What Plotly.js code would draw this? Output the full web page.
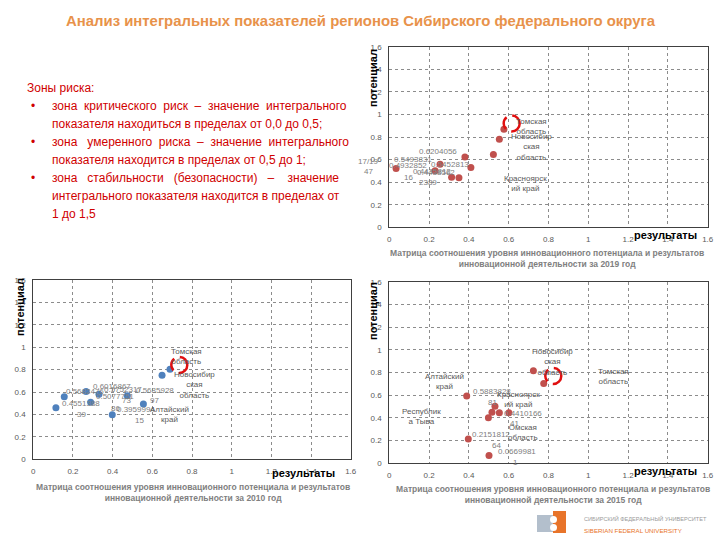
<!DOCTYPE html>
<html><head><meta charset="utf-8">
<script src="https://cdn.plot.ly/plotly-3.0.1.min.js"></script>
<style>html,body{margin:0;padding:0;background:#fff}#chart{width:720px;height:540px}</style>
</head><body><div id="chart"></div>
<script>
// ---------- DATA ----------
const slideTitle = "Анализ интегральных показателей регионов Сибирского федерального округа";
const riskLines = [
  "Зоны риска:",
  "зона\u00A0\u00A0критического\u00A0\u00A0риск\u00A0\u00A0–\u00A0\u00A0значение\u00A0\u00A0интегрального",
  "показателя находиться в пределах от 0,0 до 0,5;",
  "зона\u00A0\u00A0\u00A0умеренного\u00A0\u00A0риска\u00A0\u00A0–\u00A0\u00A0значение\u00A0\u00A0интегрального",
  "показателя находится в пределах от 0,5 до 1;",
  "зона\u00A0\u00A0\u00A0стабильности\u00A0\u00A0\u00A0(безопасности)\u00A0\u00A0\u00A0–\u00A0\u00A0\u00A0\u00A0значение",
  "интегрального показателя находится в пределах от",
  "1 до 1,5"
];
const bulletedLines = [1, 3, 5];

const xTitle = "результаты";
const yTitle = "потенциал";
const xTickVals = [0, 0.2, 0.4, 0.6, 0.8, 1, 1.2, 1.4, 1.6];
const yTickVals = [0, 0.2, 0.4, 0.6, 0.8, 1, 1.2, 1.4, 1.6];

// 2019
const results2019   = [0.034, 0.23, 0.255, 0.313, 0.35, 0.38, 0.41, 0.523, 0.553, 0.576];
const potential2019 = [0.52, 0.50, 0.558, 0.443, 0.44, 0.623, 0.53, 0.646, 0.78, 0.868];
const highlight2019 = [0.615, 0.92];
const labels2019 = ["0.6204056","0.5493831","0.4932852","0.5452813","0.4435812","0.4438562","16","2389","17/19","47",
  "Томская<br>область","Новосибир<br>ская<br>область","Красноярск<br>ий край"];
const labelPoint2019 = [5,2,0,2,1,1,0,1,0,0,9,9,9];
const caption2019 = "Матрица соотношения уровня инновационного потенциала и результатов<br>инновационной деятельности за 2019 год";

// 2010
const results2010   = [0.114, 0.156, 0.266, 0.289, 0.331, 0.398, 0.474, 0.555, 0.649, 0.689];
const potential2010 = [0.461, 0.559, 0.604, 0.509, 0.58, 0.398, 0.568, 0.494, 0.749, 0.803];
const highlight2010 = [0.736, 0.842];
const labels2010 = ["0.6016867","0.5682476","0.5077751","0.5752317","0.5685928","0.4551388","39","73","86","0.3959994","15","97",
  "Томская<br>область","Новосибир<br>ская<br>область","Алтайский<br>край"];
const labelPoint2010 = [4,2,6,6,6,1,1,6,5,5,5,7,9,9,7];
const caption2010 = "Матрица соотношения уровня инновационного потенциала и результатов<br>инновационной деятельности за 2010 год";

// 2015
const results2015   = [0.389, 0.397, 0.498, 0.501, 0.516, 0.531, 0.553, 0.601, 0.724, 0.776];
const potential2015 = [0.593, 0.214, 0.402, 0.068, 0.449, 0.502, 0.446, 0.446, 0.816, 0.702];
const highlight2015 = [0.824, 0.769];
const labels2015 = ["Алтайский<br>край","Республик<br>а Тыва","0.5883828","81","Красноярск<br>ий край","0.4410166","41",
  "Омская<br>область","0.2151812","64","0.0669981","1","Новосибир<br>ская<br>область","Томская<br>область"];
const labelPoint2015 = [0,1,0,5,7,7,7,7,1,1,3,3,8,9];
const caption2015 = "Матрица соотношения уровня инновационного потенциала и результатов<br>инновационной деятельности за 2015 год";

const logoRu = "СИБИРСКИЙ ФЕДЕРАЛЬНЫЙ УНИВЕРСИТЕТ";
const logoEn = "SIBERIAN FEDERAL UNIVERSITY";

// ---------- STYLE / LAYOUT ----------
const W = 720, H = 540;
const FONT = "Liberation Sans, Arial, sans-serif";
const NARROW = "Liberation Sans Narrow, Arial Narrow, Liberation Sans, sans-serif";
const RED_PT = "#c0504d", BLUE_PT = "#4f81bd";
const px = v => v / W, py = v => 1 - v / H;

// label pixel offsets (dx, dy screen)
const off2019 = [[-27,-5],[-27,-5],[12,-3],[10,0],[-3,1],[1,2],[12,9],[-7,12],[-28,-7],[-28,3],[28,-3],[28,18],[22,54]];
const off2010 = [[13,-8],[-1,0],[-12,1],[-4,-6],[28,-5],[17,7],[17,18],[-1,5],[3,-6],[24,-5],[27,6],[11,-3],[17,-13],[25,16],[26,11]];
const off2015 = [[-22,-14],[-47,-23],[25,-4],[-2,-4],[10,-13],[14,1],[6,11],[14,20],[23,-5],[28,6],[28,-4],[26,7],[19,-9],[70,-7]];

// plot boxes in pixels: [left, right, top, bottom]
const box1 = [389.3, 707.7, 46.7, 227.3];   // 2019
const box2 = [33.3, 350.7, 280, 459.3];     // 2010
const box3 = [389.3, 707.7, 281.7, 463.3];  // 2015

function xAxis(box, anchor) {
  return {domain:[px(box[0]), px(box[1])], anchor, range:[0,1.6], tickvals:xTickVals,
    showgrid:true, gridcolor:"#8c8c8c", griddash:"dot", gridwidth:1, zeroline:false,
    showline:true, linecolor:"#404040", linewidth:1, mirror:true, ticks:"",
    ticklabelstandoff:4, tickfont:{family:FONT, size:8, color:"#595959"}, fixedrange:true};
}
function yAxis(box, anchor) {
  return {domain:[py(box[3]), py(box[2])], anchor, range:[0,1.6], tickvals:yTickVals,
    showgrid:true, gridcolor:"#8c8c8c", griddash:"dot", gridwidth:1, zeroline:false,
    showline:true, linecolor:"#404040", linewidth:1, mirror:true, ticks:"",
    ticklabelstandoff:5, tickfont:{family:FONT, size:8, color:"#595959"}, fixedrange:true};
}

function pointLabels(xs, ys, hl, texts, anchors, offs, xa, ya) {
  return texts.map((t, k) => {
    const i = anchors[k];
    const isName = /[А-Яа-я]/.test(t);
    return {xref:xa, yref:ya, x: i < 0 ? hl[0] : xs[i], y: i < 0 ? hl[1] : ys[i],
      xshift: offs[k][0], yshift: -offs[k][1], text:t, showarrow:false,
      xanchor:"center", yanchor:"middle",
      font:{family:FONT, size:8, color: isName ? "#595959" : "#808080"}};
  });
}
function highlightShape(hl, xa, ya) {
  return {type:"circle", xref:xa, yref:ya, xsizemode:"pixel", ysizemode:"pixel",
    xanchor:hl[0], yanchor:hl[1], x0:-8, x1:8, y0:-8, y1:8,
    line:{color:"#e01010", width:2.5, dash:"13px,6px"}};
}
function axisTitles(box, yx, yy, xx, xy) {
  return [
    {xref:"paper", yref:"paper", x:px(yx), y:py(yy), text:"<b>"+yTitle+"</b>", textangle:-90,
     showarrow:false, xanchor:"center", yanchor:"middle", font:{family:NARROW, size:11, color:"#000"}},
    {xref:"paper", yref:"paper", x:px(xx), y:py(xy), text:"<b>"+xTitle+"</b>",
     showarrow:false, xanchor:"center", yanchor:"middle", font:{family:NARROW, size:11, color:"#000"}}
  ];
}
function caption(text, cx, cy) {
  return {xref:"paper", yref:"paper", x:px(cx), y:py(cy), text:"<b>"+text+"</b>", showarrow:false,
    xanchor:"center", yanchor:"top", align:"center",
    font:{family:NARROW, size:8.5, color:"#808080"}};
}

const traces = [
  {type:"scatter", mode:"markers", x:results2019, y:potential2019, xaxis:"x", yaxis:"y",
   marker:{color:RED_PT, size:7}, cliponaxis:false, hoverinfo:"x+y"},
  {type:"scatter", mode:"markers", x:results2010, y:potential2010, xaxis:"x2", yaxis:"y2",
   marker:{color:BLUE_PT, size:7}, cliponaxis:false, hoverinfo:"x+y"},
  {type:"scatter", mode:"markers", x:results2015, y:potential2015, xaxis:"x3", yaxis:"y3",
   marker:{color:RED_PT, size:7}, cliponaxis:false, hoverinfo:"x+y"}
];

const annotations = [
  {xref:"paper", yref:"paper", x:px(361), y:py(21), text:"<b>"+slideTitle+"</b>", showarrow:false,
   xanchor:"center", yanchor:"middle", font:{family:FONT, size:14.9, color:"#e8924a"}},
  ...pointLabels(results2019, potential2019, highlight2019, labels2019, labelPoint2019, off2019, "x", "y"),
  ...pointLabels(results2010, potential2010, highlight2010, labels2010, labelPoint2010, off2010, "x2", "y2"),
  ...pointLabels(results2015, potential2015, highlight2015, labels2015, labelPoint2015, off2015, "x3", "y3"),
  ...axisTitles(box1, 373, 78, 665, 235),
  ...axisTitles(box2, 20, 307, 303, 473),
  ...axisTitles(box3, 373, 311, 665, 471),
  caption(caption2019, 547, 246),
  caption(caption2010, 193, 480),
  caption(caption2015, 553, 482),
  {xref:"paper", yref:"paper", x:px(582), y:py(518), text:logoRu, showarrow:false, xanchor:"left", yanchor:"middle",
   font:{family:NARROW, size:5.6, color:"#9a9a9a"}},
  {xref:"paper", yref:"paper", x:px(582), y:py(530), text:logoEn, showarrow:false, xanchor:"left", yanchor:"middle",
   font:{family:NARROW, size:6.2, color:"#e8742a"}}
];
riskLines.forEach((t, k) => {
  const yy = 88 + k * 18;
  annotations.push({xref:"paper", yref:"paper", x:px(k === 0 ? 25 : 50), y:py(yy), text:t, showarrow:false,
    xanchor:"left", yanchor:"middle", font:{family:FONT, size:12, color:"#d00000"}});
});
bulletedLines.forEach(k => {
  annotations.push({xref:"paper", yref:"paper", x:px(33), y:py(88 + k * 18), text:"•", showarrow:false,
    xanchor:"center", yanchor:"middle", font:{family:FONT, size:12, color:"#d00000"}});
});

const shapes = [
  highlightShape(highlight2019, "x", "y"),
  highlightShape(highlight2010, "x2", "y2"),
  highlightShape(highlight2015, "x3", "y3"),
  // logo graphic
  {type:"rect", xref:"paper", yref:"paper", x0:px(537), x1:px(553), y0:py(532), y1:py(515), fillcolor:"#b3bfcc", line:{width:0}},
  {type:"rect", xref:"paper", yref:"paper", x0:px(553), x1:px(566), y0:py(533), y1:py(511), fillcolor:"#e8742a", line:{width:0}},
  {type:"circle", xref:"paper", yref:"paper", x0:px(550), x1:px(557), y0:py(523), y1:py(516), fillcolor:"#ffffff", line:{width:0}},
  {type:"circle", xref:"paper", yref:"paper", x0:px(550), x1:px(557), y0:py(531), y1:py(524), fillcolor:"#ffffff", line:{width:0}}
];

const layout = {
  width:W, height:H, margin:{l:0, r:0, t:0, b:0}, showlegend:false,
  paper_bgcolor:"#ffffff", plot_bgcolor:"#ffffff",
  xaxis:xAxis(box1, "y"), yaxis:yAxis(box1, "x"),
  xaxis2:xAxis(box2, "y2"), yaxis2:yAxis(box2, "x2"),
  xaxis3:xAxis(box3, "y3"), yaxis3:yAxis(box3, "x3"),
  annotations, shapes
};
Plotly.newPlot("chart", traces, layout, {displayModeBar:false, staticPlot:true});
</script></body></html>
